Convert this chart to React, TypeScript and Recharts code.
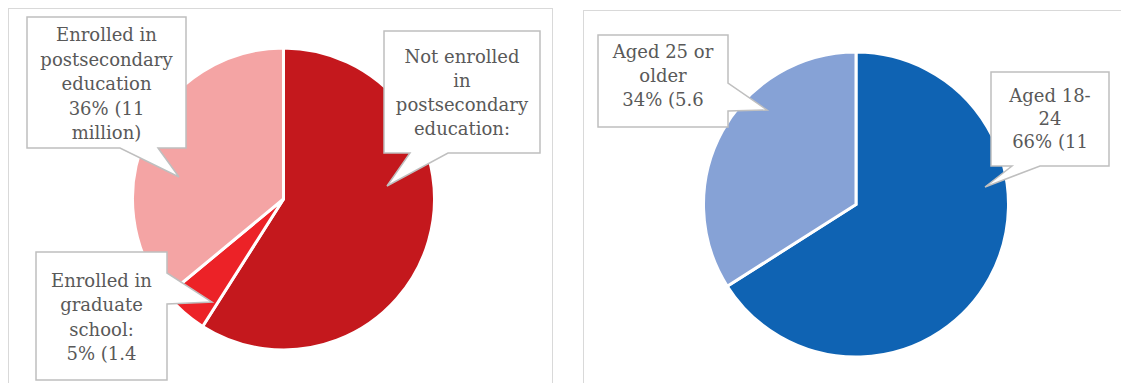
import React from "react";
import { PieChart, Pie, Cell } from "recharts";

// ---------- data ----------
const leftCategories = [
  "Not enrolled in postsecondary education",
  "Enrolled in graduate school",
  "Enrolled in postsecondary education",
];
const leftValues = [59, 5, 36];
const leftColors = ["#C4181D", "#EC2227", "#F4A4A4"];
const leftLabelLines = [
  ["Not enrolled", "in", "postsecondary", "education:"],
  ["Enrolled in", "graduate", "school:", "5% (1.4"],
  ["Enrolled in", "postsecondary", "education", "36% (11", "million)"],
];

const rightCategories = ["Aged 18-24", "Aged 25 or older"];
const rightValues = [66, 34];
const rightColors = ["#0F63B3", "#86A2D6"];
const rightLabelLines = [
  ["Aged 18-", "24", "66% (11"],
  ["Aged 25 or", "older", "34% (5.6"],
];

const leftData = leftCategories.map((name, i) => ({ name, value: leftValues[i] }));
const rightData = rightCategories.map((name, i) => ({ name, value: rightValues[i] }));

// ---------- layout (callout boxes relative to pie centre) ----------
type Callout = {
  x0: number; x1: number; y0: number; y1: number;
  side: "bottom" | "right";
  b0: number; b1: number;
  tx: number; ty: number;
  base: number; step: number;
};

const LEFT_CX = 283.5;
const LEFT_CY = 199;
const RIGHT_CX = 856;
const RIGHT_CY = 204.5;

const leftCallouts: Callout[] = [
  { x0: 100.5, x1: 256.5, y0: -168, y1: -46, side: "bottom", b0: 126.5, b1: 164.5, tx: 103.5, ty: -13, base: -136, step: 24 },
  { x0: -247.5, x1: -116.5, y0: 53, y1: 181, side: "right", b0: 74, b1: 105, tx: -71.5, ty: 103, base: 88, step: 24.3 },
  { x0: -256.5, x1: -97.5, y0: -182, y1: -51, side: "bottom", b0: -163.5, b1: -125.5, tx: -104.5, ty: -22, base: -158, step: 24.5 },
];
const rightCallouts: Callout[] = [
  { x0: 135, x1: 253, y0: -132.5, y1: -38.5, side: "bottom", b0: 156, b1: 184, tx: 129, ty: -17.5, base: -102.5, step: 23 },
  { x0: -258, x1: -128, y0: -169.5, y1: -77.5, side: "right", b0: -121.5, b1: -93.5, tx: -89, ty: -94.5, base: -146.5, step: 24 },
];

const FONT = "'DejaVu Serif', serif";

function calloutPath(c: Callout, cx: number, cy: number) {
  const X0 = cx + c.x0, X1 = cx + c.x1, Y0 = cy + c.y0, Y1 = cy + c.y1;
  const TX = cx + c.tx, TY = cy + c.ty;
  if (c.side === "bottom") {
    const B0 = cx + c.b0, B1 = cx + c.b1;
    return `M${X0},${Y0} L${X1},${Y0} L${X1},${Y1} L${B1},${Y1} L${TX},${TY} L${B0},${Y1} L${X0},${Y1} Z`;
  }
  const B0 = cy + c.b0, B1 = cy + c.b1;
  return `M${X0},${Y0} L${X1},${Y0} L${X1},${B0} L${TX},${TY} L${X1},${B1} L${X1},${Y1} L${X0},${Y1} Z`;
}

function makeRenderer(callouts: Callout[], lines: string[][], pcx: number, pcy: number) {
  return (props: any) => {
    const i = props.index as number;
    const c = callouts[i];
    if (!c) return null;
    const cx = pcx;
    const cy = pcy;
    const midX = cx + (c.x0 + c.x1) / 2;
    return (
      <g key={`callout-${i}`}>
        <path d={calloutPath(c, cx, cy)} fill="#FFFFFF" stroke="#BFBFBF" strokeWidth={1.5} />
        {lines[i].map((t, k) => (
          <text
            key={k}
            x={midX}
            y={cy + c.base + k * c.step}
            textAnchor="middle"
            fill="#595959"
            fontSize={18}
            fontFamily={FONT}
          >
            {t}
          </text>
        ))}
      </g>
    );
  };
}

export default function App() {
  return (
    <div
      style={{
        position: "absolute",
        left: 0,
        top: 0,
        width: 1121,
        height: 383,
        overflow: "hidden",
        background: "#FFFFFF",
      }}
    >
      <div
        style={{
          position: "absolute",
          left: 8,
          top: 8,
          width: 545,
          height: 420,
          border: "1.5px solid #D9D9D9",
          boxSizing: "border-box",
        }}
      />
      <div
        style={{
          position: "absolute",
          left: 583,
          top: 10,
          width: 600,
          height: 420,
          border: "1.5px solid #D9D9D9",
          boxSizing: "border-box",
        }}
      />
      <div style={{ position: "absolute", left: 0, top: 0 }}>
        <PieChart width={1121} height={383} margin={{ top: 0, right: 0, bottom: 0, left: 0 }}>
          <Pie
            data={leftData}
            dataKey="value"
            nameKey="name"
            cx={LEFT_CX}
            cy={LEFT_CY}
            outerRadius={151}
            startAngle={90}
            endAngle={-270}
            stroke="#FFFFFF"
            strokeWidth={3}
            labelLine={false}
            label={makeRenderer(leftCallouts, leftLabelLines, LEFT_CX, LEFT_CY)}
            isAnimationActive={false}
          >
            {leftData.map((d, i) => (
              <Cell key={d.name} fill={leftColors[i]} />
            ))}
          </Pie>
          <Pie
            data={rightData}
            dataKey="value"
            nameKey="name"
            cx={RIGHT_CX}
            cy={RIGHT_CY}
            outerRadius={152.5}
            startAngle={90}
            endAngle={-270}
            stroke="#FFFFFF"
            strokeWidth={3}
            labelLine={false}
            label={makeRenderer(rightCallouts, rightLabelLines, RIGHT_CX, RIGHT_CY)}
            isAnimationActive={false}
          >
            {rightData.map((d, i) => (
              <Cell key={d.name} fill={rightColors[i]} />
            ))}
          </Pie>
        </PieChart>
      </div>
    </div>
  );
}
